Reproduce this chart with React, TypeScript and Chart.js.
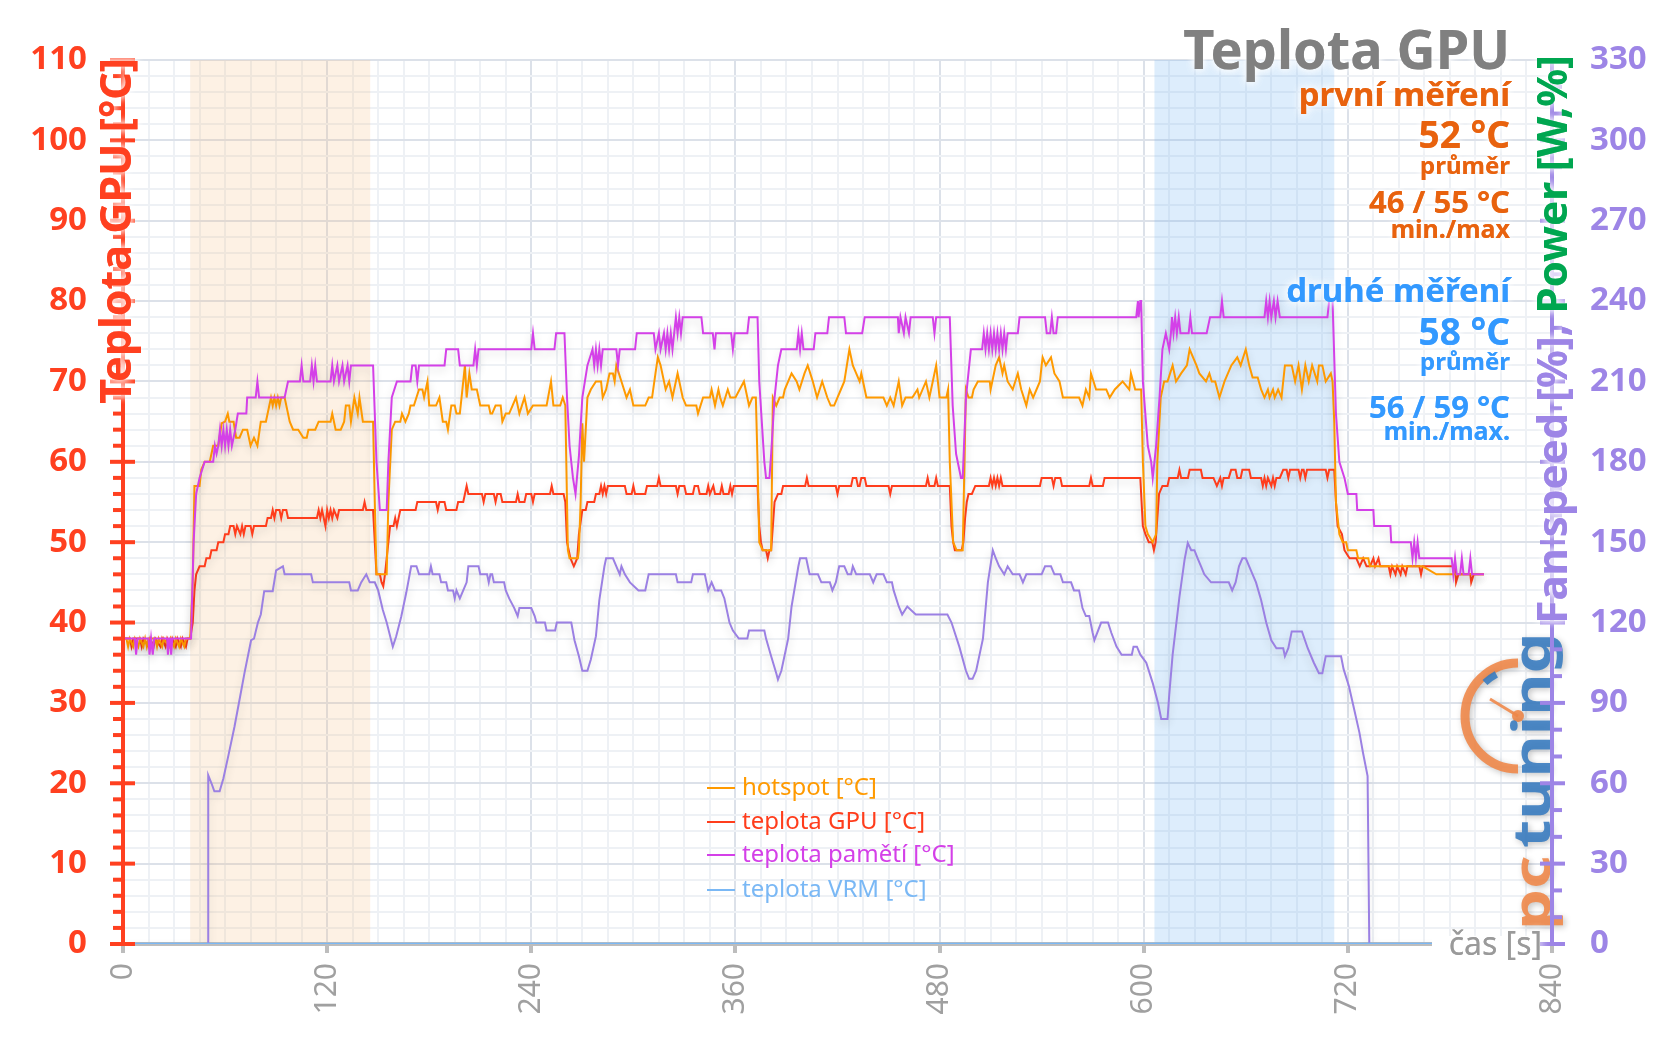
import React, { useEffect, useRef } from 'react';
import { Chart, registerables } from 'chart.js';

Chart.register(...registerables);

type P = [number, number];

// ---------- DATA ----------
const xLabelValues = [0, 120, 240, 360, 480, 600, 720, 840];
const bandFrom = [39.5, 606.3];
const bandTo = [145.3, 712];

const seriesNames = ['hotspot [°C]', 'teplota GPU [°C]', 'teplota pamětí [°C]', 'teplota VRM [°C]'];

const hotspot: P[] = [[0,38],[2,38],[3,37],[4,38],[6,37],[7,38],[9,37],[10,38],[12,37],[13,38],[14,37],[15,38],[19,38],[20,37],[21,38],[23,37],[24,38],[27,37],[28,38],[30,37],[31,38],[33,37],[34,38],[36,37],[37,38],[39.5,38],[41,45],[42,57],[45,57],[46,59],[48,60],[51,60],[53,62],[56,62],[58,64.8],[60,65],[61.6,66],[62.5,65],[65,65],[66.5,63],[68.5,63],[70.5,64],[73,64],[75,62],[77,63],[79,62],[81,65],[84,65],[87,68],[88,67],[89,68],[90,67],[91,68],[92,67],[93,68],[95,68],[98,65],[100,64],[103,64],[106,63],[108,63],[109,64],[113,64],[115,65],[122,65],[123,66],[125,64],[128,64],[130,65],[131,67],[133,67],[134,65],[136,68],[138,66],[139,68],[141,65],[147,65],[148,55],[149,46],[155,46],[156,55],[158,64],[160,65],[163,65],[164,66],[166,65],[168,66],[169,67],[171,67],[174,69],[176,69],[177,68],[179,70],[180,67],[184,67],[186,68],[188,65],[190,65],[191,64],[193,67],[195,67],[196,66],[198,66],[199,68],[201,72],[202,68],[203.6,71],[205,69],[208,69],[210,67],[215,67],[216,66],[217,66],[219,67],[222,67],[223,65],[225,66],[227,66],[229,67],[231,68],[233,66],[236,68],[238,66],[241,67],[249,67],[251.6,70],[253,67],[257,67],[258.5,68],[260,67],[260.5,61],[261.5,49],[262.5,48],[267.4,48],[268,49],[269,55],[270,64.8],[271,60],[272,64],[273,68],[275,69],[278,70],[281,70],[282,68],[284,69],[286,71],[288,71],[289,70],[290,72],[293,70],[296,68],[298,69],[300,67],[307,67],[309,68],[311,68],[313,71],[314.4,73],[316,72],[319,69],[321,70],[323,68],[326,71],[329,68],[331,67],[337,67],[338,66],[341,68],[345,68],[346,69],[348,67],[350,69],[351,68],[352.6,67],[355.5,69],[357,68],[360,68],[365,70],[367,68],[368,67],[370,68],[372,68],[373,60],[374,50],[376,49],[381,49],[382,68],[384,67],[386,68],[388,68],[389,69],[393,71],[396,70],[397.6,69],[400.6,71],[402.5,72],[405.5,70],[408,68],[411,70],[414,68],[416,67],[418,67],[422,69],[424,70],[427,74],[429,72],[431,71],[433,70],[434,71],[436,69],[437,68],[447,68],[449,67],[451,68],[453,67],[456,70],[458,67],[460,68],[464,68],[467,69],[468,68],[472,70],[474,68],[476,70],[478,72],[480,68],[484,68],[485,69],[486,60],[488,50],[490,49],[493.6,49],[495.5,69],[497,68],[499,68],[500,69],[502.5,70],[509.5,70],[510,69],[513,72],[515,73],[517,71],[518,72],[520,70],[523,69],[526,71],[528,69],[531,67],[533,69],[535,68],[537,69],[539,70],[540,72],[540.6,73],[542.5,72],[545.5,73],[547.5,71],[550.5,70],[552.5,68],[562,68],[564,67],[566,69],[568,68],[569,71],[572,69],[578,69],[580,68],[583,69],[587.6,70],[591.5,69],[592.5,71],[595,69],[598.5,69],[599.5,60],[601,52],[602.4,51],[605.3,50],[607.3,51],[608,60],[610,68],[612,70],[614,70],[617,72],[619,70],[622,71],[625.4,72],[627,74],[629,73],[631,72],[632.7,71],[636.6,70],[638.6,71],[640,70],[642,70],[644.5,68],[647.5,70],[651.5,72],[655,73],[657,72],[660,74],[662,72],[664,70.5],[667,70.5],[669,69],[671,68],[673,69],[674,68],[676,69],[677,68],[679,69],[681,68],[682,70],[683,72],[687,72],[689,70],[691,72],[693,69],[695,72],[697,70],[699,72],[702,70],[703,72],[705,72],[707,70],[710,71],[711,70],[712,65],[713,55],[714,53],[715,51],[717,50],[719,50],[720,49],[725,49],[726,48],[732,48],[733,47],[764,47],[772,46],[800,46]];

const gpuTemp: P[] = [[0,38],[4,38],[5,37],[6,38],[10,38],[11,37],[12,38],[15,37],[16,38],[18,37],[19,38],[22,37],[23,38],[25,37],[26,38],[28,37],[29,38],[31,37],[32,38],[34,37],[35,38],[37,37],[38,38],[39.5,38],[41,40],[42,44],[43,46],[45,47],[48,47],[49,48],[51,48],[52,49],[55,49],[56,50],[59,50],[60,51],[62,51],[63,52],[65,52],[66,51],[67,52],[69,51],[70,52],[71,51],[72,52],[75,52],[76,51],[77,52],[84,52],[85,53],[87,53],[88,54],[89,53],[90,54],[92,54],[93,53],[94,54],[96,54],[97,53],[114,53],[115,54],[116,53],[117,54],[118,53],[119,52],[120,54],[121,53],[122,54],[123,53],[124,54],[126,53],[127,54],[141,54],[142,55],[143,54],[147,54],[148,50],[149,46],[151,46],[152,45],[153,44.5],[154,46],[156,50],[157,52],[159,52],[160,53],[161,52],[162,53],[163,54],[172,54],[173,55],[184,55],[185,54],[186,55],[189,55],[190,54],[196,54],[197,55],[200,55],[201,56],[202,57],[203,56],[211,56],[212,55],[213,56],[218,56],[219,55],[220,56],[222,56],[223,55],[231,55],[232,56],[233,55],[236,55],[237,56],[240,56],[241,55],[242,56],[251,56],[252,57],[253,56],[259,56],[260,55],[261,50],[262,49],[263,48],[265,47],[266,47.5],[267,48],[268,51],[270,54],[272,54],[273,55],[277,55],[278,56],[280,56],[281,57],[282,56],[283,57],[284,56],[285,57],[295,57],[296,56],[299,56],[300,57],[301,56],[307,56],[308,57],[314,57],[315,58],[316,57],[325,57],[326,56],[327,57],[330,57],[331,56],[335,56],[336,57],[338,57],[339,56],[343,56],[344,57],[345,56],[347,57],[348,56],[351,56],[352,57],[353,56],[356,56],[357,57],[358,56],[359,57],[373,57],[374,52],[375,50],[376,49],[378,49],[379,48],[380,49],[381,49],[382,52],[383,55],[385,56],[387,56],[388,57],[401,57],[402,58],[403,57],[419,57],[420,56],[421,57],[428,57],[429,58],[431,58],[432,57],[433,57],[434,58],[436,58],[437,57],[450,57],[451,56],[452,57],[472,57],[473,58],[474,57],[477,57],[478,58],[479,57],[486,57],[487,52],[488,50],[489,49],[493,49],[494,50],[495,53],[496,55],[497,56],[499,56],[501,57],[509,57],[510,58],[511,57],[512,58],[513,57],[514,58],[515,57],[516,58],[517,57],[519,57],[539,57],[540,58],[546,58],[547,57],[548,58],[551,58],[552,57],[568,57],[569,58],[570,57],[576,57],[577,58],[598,58],[599.5,52],[601,51],[603,50],[605,50],[606,49],[607,50],[608,53],[609,56],[611,57],[614,57],[615,58],[620,58],[621,59],[622,58],[626,58],[627,59],[633.6,59],[634.6,58],[641,58],[643,57],[645,58],[646,57],[647,58],[650,58],[651.4,59],[654,59],[655,58],[657,58],[658,59],[662,59],[663,58],[669,58],[670,57],[671,58],[672,57],[673,58],[675,57],[676,58],[677,57],[678,58],[680,58],[682,59],[684,59],[685,58],[686,59],[691,59],[692,58],[693,59],[694,59],[695,58],[696,59],[707,59],[708,58],[709,59],[712,59],[713,55],[714,52],[716.5,51],[718,49],[721,48],[725,48],[727,47],[729,48],[731,47],[733,47],[735,48],[736,47],[738,48],[739,47],[744,47],[745,46],[746,47],[748,46],[749,47],[751,46],[752,47],[754,46],[755,47],[762,47],[763,46],[764,47],[783,47],[783.6,45],[785,46],[792,46],[792.5,45],[794,46],[800,46]];

const memTemp: P[] = [[0,38],[7,38],[7.7,36],[8.5,38],[15,38],[15.6,36],[16.5,38],[17,38],[17.5,36],[18.3,38],[26,38],[26.4,36],[27.2,38],[27.8,38],[28.3,36],[29,38],[40,38],[41.5,50],[43,56],[45,58],[48,60],[53,60],[54,62],[55,61],[56,62],[57,64],[58,62],[59,64],[60,62],[61,64],[62,62],[63,64],[64,62],[66,64],[67.5,66],[72.5,66],[73,68],[78,68],[79,70],[80,68],[95,68],[97,70],[104,70],[105,72],[106,70],[110,70],[111,72],[112,70],[113,72],[114,70],[122,70],[123,72],[124,70],[126,72],[127,70],[129,72],[130,70],[132,72],[133,70],[134,72],[147,72],[149,60],[151,54],[155,54],[156,60],[158,68],[161,70],[169,70],[170,72],[172,72],[173,70],[174,72],[189,72],[190,74],[197,74],[198,72],[206,72],[207,74],[208,72],[209,74],[240,74],[241,76],[242,74],[253.6,74],[254.6,76],[259.5,76],[261,68],[262.5,62],[264.5,58],[266,56],[268,60.7],[270,68],[273,72],[276,74],[277,72],[278,74],[279,72],[280,74],[281,72],[282,74],[290,74],[291,72],[292,74],[301,74],[302,76],[312,76],[313,74],[315,76],[316,74],[318,76],[319,74],[320,76],[321,74],[322,76],[323,74],[324,76],[325,78],[326,76],[327,78],[328,76],[329,78],[340,78],[341,76],[346.7,76],[347.7,74],[348.5,76],[357.5,76],[358.5,74],[359.5,76],[367,76],[368,78],[373,78],[374,70],[377,60],[378,58],[380,58],[381,61],[383,68],[385,72],[387,74],[396,74],[397,76],[398,74],[399,76],[400,74],[406,74],[407,76],[414,76],[415,78],[424,78],[425,76],[434.5,76],[436,78],[455.5,78],[456,76],[457,78],[459,76],[460,78],[462,76],[463,78],[476,78],[477,76],[478,78],[486,78],[487.7,67],[489.7,61],[492.6,58],[493.6,58],[495.5,68],[498.4,74],[505,74],[506,76],[507,74],[508,76],[509,74],[510,76],[511,74],[512,76],[513,74],[514,76],[515,74],[516,76],[517,74],[518,76],[519,74],[520,76],[526,76],[527,78],[542,78],[543,76],[545,76],[546,78],[547,76],[548.5,76],[549.5,78],[595.6,78],[596.6,80],[597,78],[598,80],[598.5,80],[599.5,70],[602.4,62],[604.4,60],[605.3,58],[607.3,62],[609.3,68],[611,74],[613,76],[615,74],[616,76],[616.6,78],[617.5,76],[618.5,78],[619.5,76],[620.6,78],[621.6,76],[626.4,76],[627.4,78],[628.4,76],[637,76],[639,78],[645,78],[646,80],[647,78],[671,78],[672,80],[673,78],[674,80],[675,78],[676.5,80],[677.5,78],[678.7,80],[680,78],[708,78],[709,80],[711,80],[713,66],[715,60],[718,58],[720,56],[725,56],[725.5,54],[735,54],[735.5,52],[745,52],[745.5,50],[757,50],[758,48],[759,50],[760,48],[761,50],[762,48],[781,48],[782,46],[783,48],[784,46],[786,46],[787,48],[788,46],[791,46],[792,48],[793,46],[800,46]];

const vrmTemp: P[] = [[0,0],[800,0]];

const fanLine: P[] = [[0,0],[50,0],[50.1,21],[52,20],[53.7,19],[56.8,19],[59,20.6],[62,23.5],[65.5,27],[68.5,30.4],[71.4,33.7],[75.3,37.8],[77,38],[79.3,40],[81,41],[83,43.9],[88,43.9],[90,46.5],[94,47],[95,46],[110.6,46],[111.6,45],[133,45],[134,44],[138,44],[140,45],[143,46],[145,45],[148,45],[150,44],[152.7,41.6],[155,40],[158.6,37],[160.6,38.3],[163.5,40.7],[166.5,43.7],[169.4,47],[172.5,47],[174,46],[180,46],[181,47],[182,46],[186,46],[187,45],[190,45],[191,44],[194,44],[195,43],[196,44],[198,43],[200,44],[202,45],[203,47],[209,47],[210,46],[214,46],[215,45],[216,46],[217,46],[218,45],[224,45],[225,44],[227,43],[230,41.8],[232,40.8],[233,41.8],[240,41.8],[242,40.8],[243,40],[248,40],[249,39],[254,39],[255,40],[263.5,40],[265.4,37.8],[268,35.8],[270,34],[273,34],[275,35.4],[278,38.3],[280,42.8],[283,47],[284,48],[288,48],[290,47],[292,46],[293,47],[295,46],[298,45],[303,44],[307,44],[309,46],[325,46],[326,45],[334,45],[335,46],[342,46],[343,45],[344,44],[346,45],[348,44],[351.6,44],[353.5,43],[356.5,40],[358.5,39],[362,38],[367,38],[368,39],[377,39],[378,38],[381,35.8],[384,33.7],[385,32.9],[387,34],[391,38],[393,42],[397,47],[398,48],[401.6,48],[403.6,46],[408.5,46],[410.5,45],[415.5,45],[417,44],[419,45],[421,47],[424,47],[426,46],[428,46],[429,47],[431,46],[439,46],[441,45],[443,46],[447,46],[449,45],[452,45],[453,44],[456,42],[458,41],[461,42],[466,41],[484.6,41],[487,40],[491.6,37],[495.5,34],[497.4,33],[499.4,33],[501.5,34],[505.5,38],[508.4,45],[511.3,49],[513,48],[515,47],[518,46],[520,47],[523,46],[527,46],[529,45],[531,46],[540,46],[542,47],[545.5,47],[547.5,46],[551,46],[552.5,45],[557.3,45],[559,44],[562,44],[564,41.8],[566,40.8],[568,40.8],[570,38.7],[571,37.8],[575,40],[579,40],[581,38.7],[584,37],[587,36],[593,36],[594,37],[596,37],[598,36],[601.5,35],[605.4,32.4],[608.4,30],[610.3,28],[614,28],[615,31],[617,36],[621,43.2],[624,47.8],[625.9,49.9],[627.9,49],[629.8,49],[631.7,48],[633.7,47],[635.6,46],[639.6,45],[650,45],[652,44],[654,45],[656,47],[658,48],[660,48],[662,47],[664,46],[666,45],[669,42.8],[672,40],[675,37.8],[678,36.8],[682,36.8],[683,35.8],[685,36.8],[687,38.9],[693,38.9],[696.4,36.8],[700,35],[703,33.7],[705,33.7],[707,35.8],[716,35.8],[717.5,34.2],[720.6,32.1],[723.7,29.2],[726.8,26.3],[728.9,23.8],[731.6,20.9],[732.6,0],[800,0]];

// ---------- STYLE ----------
const FONT = '"Noto Sans", "Open Sans", "DejaVu Sans", sans-serif';
const COL = {
  hot: '#ff9a00', gpu: '#ff3d1c', mem: '#d440e8', vrm: '#7ab8f5', fan: '#9b80e3',
  left: '#ff4020', right: '#9d85e6', green: '#00a650', orange: '#e8620e', blue: '#3399ff',
  title: '#808080', axisGray: '#bdbdbd', xlab: '#a0a0a0',
};
const bandColors = ['rgba(248,190,130,0.22)', 'rgba(120,185,245,0.25)'];
const seriesColors = [COL.hot, COL.gpu, COL.mem, COL.vrm];

const toXY = (a: P[]) => a.map(([x, y]) => ({ x, y }));

function glowText(ctx: any, text: string, x: number, y: number, color: string, font: string, align: string) {
  ctx.save();
  ctx.font = font;
  ctx.textAlign = align;
  ctx.textBaseline = 'alphabetic';
  ctx.shadowColor = 'rgba(255,255,255,1)';
  ctx.shadowBlur = 8;
  ctx.fillStyle = color;
  ctx.fillText(text, x, y);
  ctx.fillText(text, x, y);
  ctx.restore();
}

const bandsPlugin = {
  id: 'bands',
  beforeDatasetsDraw(chart: any) {
    const { ctx, chartArea: a, scales } = chart;
    ctx.save();
    bandFrom.forEach((f, i) => {
      const x0 = scales.x.getPixelForValue(f);
      const x1 = scales.x.getPixelForValue(bandTo[i]);
      ctx.fillStyle = bandColors[i];
      ctx.fillRect(x0, a.top, x1 - x0, a.bottom - a.top);
    });
    ctx.restore();
  },
};

const shadowPlugin = {
  id: 'lineShadow',
  beforeDatasetDraw(chart: any, args: any) {
    const ctx = chart.ctx;
    ctx.save();
    if (args.index !== 3) {
      ctx.shadowColor = 'rgba(0,0,0,0.16)';
      ctx.shadowBlur = 8;
      ctx.shadowOffsetY = 4;
    }
  },
  afterDatasetDraw(chart: any) {
    chart.ctx.restore();
  },
};

function drawLogo(ctx: any) {
  ctx.save();
  ctx.globalAlpha = 0.9;
  ctx.shadowColor = 'rgba(0,0,0,0.25)';
  ctx.shadowBlur = 6;
  ctx.shadowOffsetX = 2;
  ctx.shadowOffsetY = 2;
  // gauge
  const cx = 1518, cy = 716, r = 53;
  ctx.lineWidth = 9;
  ctx.strokeStyle = '#f0884a';
  ctx.beginPath();
  ctx.arc(cx, cy, r, -Math.PI / 2, Math.PI / 2, true);
  ctx.stroke();
  ctx.strokeStyle = '#3a7cc0';
  ctx.lineWidth = 7;
  ctx.beginPath();
  ctx.arc(cx, cy, r - 6, -2.35, -2.05, false);
  ctx.stroke();
  ctx.strokeStyle = '#f0884a';
  ctx.lineWidth = 3;
  ctx.beginPath();
  ctx.moveTo(cx, cy);
  ctx.lineTo(cx - 28, cy - 17);
  ctx.stroke();
  ctx.fillStyle = '#f0884a';
  ctx.beginPath();
  ctx.arc(cx, cy, 6, 0, Math.PI * 2);
  ctx.fill();
  // text
  ctx.translate(1550, 930);
  ctx.rotate(-Math.PI / 2);
  ctx.scale(1.25, 1);
  ctx.font = `bold 52px ${FONT}`;
  ctx.textAlign = 'left';
  ctx.textBaseline = 'alphabetic';
  ctx.fillStyle = '#f0884a';
  ctx.fillText('pc', 0, 0);
  const w = ctx.measureText('pc').width;
  ctx.fillStyle = '#3a7cc0';
  ctx.fillText('tuning', w + 6, 0);
  ctx.restore();
}

const overlayPlugin = {
  id: 'overlay',
  afterDatasetsDraw(chart: any) {
    const { ctx, chartArea: a, scales } = chart;
    const y = scales.y, y2 = scales.y2;
    ctx.save();
    // background for the time label
    ctx.fillStyle = '#ffffff';
    ctx.fillRect(1432, a.bottom - 8, 116, 14);
    drawLogo(ctx);
    // axis lines and ticks
    ctx.lineCap = 'butt';
    ctx.lineWidth = 4;
    ctx.strokeStyle = COL.left;
    ctx.beginPath();
    ctx.moveTo(a.left, a.top);
    ctx.lineTo(a.left, a.bottom + 2);
    ctx.stroke();
    for (let v = 0; v <= 110; v += 2) {
      const py = y.getPixelForValue(v);
      ctx.beginPath();
      if (v % 10 === 0) { ctx.moveTo(a.left - 13, py); ctx.lineTo(a.left + 12, py); }
      else { ctx.moveTo(a.left - 10, py); ctx.lineTo(a.left, py); }
      ctx.stroke();
    }
    ctx.strokeStyle = COL.right;
    ctx.beginPath();
    ctx.moveTo(a.right, a.top);
    ctx.lineTo(a.right, a.bottom + 2);
    ctx.stroke();
    for (let v = 0; v <= 330; v += 10) {
      const py = y2.getPixelForValue(v);
      ctx.beginPath();
      if (v % 30 === 0) { ctx.moveTo(a.right - 12, py); ctx.lineTo(a.right + 13, py); }
      else { ctx.moveTo(a.right, py); ctx.lineTo(a.right + 10, py); }
      ctx.stroke();
    }
    ctx.restore();
  },
  afterDraw(chart: any) {
    const { ctx } = chart;
    // time label
    glowText(ctx, 'čas [s]', 1542, 955, '#9a9a9a', `32px ${FONT}`, 'right');
    // title + annotations
    glowText(ctx, 'Teplota GPU', 1510, 69, COL.title, `bold 54px ${FONT}`, 'right');
    const notes: [string, number, string, number][] = [
      ['první měření', 106, COL.orange, 33],
      ['52 °C', 148, COL.orange, 37],
      ['průměr', 174, COL.orange, 24],
      ['46 / 55 °C', 213, COL.orange, 31],
      ['min./max', 238, COL.orange, 25],
      ['druhé měření', 302, COL.blue, 33],
      ['58 °C', 345, COL.blue, 37],
      ['průměr', 370, COL.blue, 24],
      ['56 / 59 °C', 418, COL.blue, 31],
      ['min./max.', 440, COL.blue, 25],
    ];
    notes.forEach(([t, by, c, s]) => glowText(ctx, t, 1510, by, c, `bold ${s}px ${FONT}`, 'right'));

    // left axis title
    ctx.save();
    ctx.translate(131, 58);
    ctx.rotate(-Math.PI / 2);
    glowText(ctx, 'Teplota GPU [°C]', 0, 0, COL.left, `bold 43px ${FONT}`, 'right');
    ctx.restore();

    // right axis title (two colours)
    ctx.save();
    ctx.translate(1567, 55);
    ctx.rotate(-Math.PI / 2);
    ctx.font = `bold 42px ${FONT}`;
    const p2 = 'Power [W,%]';
    const w2 = ctx.measureText(p2).width;
    glowText(ctx, p2, 0, 0, COL.green, `bold 42px ${FONT}`, 'right');
    glowText(ctx, 'Fan speed [%], ', -w2, 0, COL.right, `bold 42px ${FONT}`, 'right');
    ctx.restore();

    // legend
    ctx.save();
    const rows = [788, 822, 855, 890];
    seriesNames.forEach((name, i) => {
      ctx.strokeStyle = seriesColors[i];
      ctx.lineWidth = 2;
      ctx.beginPath();
      ctx.moveTo(707, rows[i]);
      ctx.lineTo(735, rows[i]);
      ctx.stroke();
      ctx.font = `24px ${FONT}`;
      ctx.textAlign = 'left';
      ctx.textBaseline = 'middle';
      ctx.fillStyle = seriesColors[i];
      ctx.fillText(name, 742, rows[i]);
    });
    ctx.restore();
  },
};

export default function App() {
  const ref = useRef<HTMLCanvasElement>(null);

  useEffect(() => {
    document.body.style.margin = '0';
    const canvas = ref.current;
    if (!canvas) return;
    const line = (label: string, data: P[], color: string, width = 2) => ({
      label,
      data: toXY(data),
      borderColor: color,
      backgroundColor: color,
      borderWidth: width,
      pointRadius: 0,
      tension: 0,
      fill: false,
      yAxisID: 'y',
    });
    const chart = new Chart(canvas, {
      type: 'line',
      data: {
        datasets: [
          line(seriesNames[2], memTemp, COL.mem),
          line(seriesNames[0], hotspot, COL.hot),
          line(seriesNames[1], gpuTemp, COL.gpu),
          line(seriesNames[3], vrmTemp, COL.vrm, 2.5),
          line('Fan speed [%]', fanLine, COL.fan),
        ],
      },
      options: {
        responsive: false,
        devicePixelRatio: 1,
        animation: false,
        parsing: false,
        normalized: true,
        layout: { padding: { top: 60, left: 0, right: 0, bottom: 0 } },
        plugins: { legend: { display: false }, tooltip: { enabled: false }, title: { display: false } },
        scales: {
          x: {
            type: 'linear',
            min: 0,
            max: 840,
            afterFit: (s: any) => { s.height = 99; },
            afterBuildTicks: (s: any) => {
              const t = [];
              for (let v = 0; v <= 840; v += 15) t.push({ value: v });
              s.ticks = t;
            },
            ticks: {
              autoSkip: false,
              minRotation: 90,
              maxRotation: 90,
              padding: 10,
              color: COL.xlab,
              font: { family: FONT, size: 30 },
              callback: (v: any) => (xLabelValues.includes(Number(v)) ? String(v) : ''),
            },
            grid: {
              color: (c: any) => (c.tick && c.tick.value % 120 === 0 ? '#dce1e9' : '#eef1f5'),
              lineWidth: 2,
              tickLength: 9,
              tickWidth: 4,
              tickColor: (c: any) => (c.tick && c.tick.value % 120 === 0 ? COL.axisGray : 'rgba(0,0,0,0)'),
            },
            border: { color: COL.axisGray, width: 4 },
          },
          y: {
            position: 'left',
            min: 0,
            max: 110,
            afterFit: (s: any) => { s.width = 123; },
            afterBuildTicks: (s: any) => {
              const t = [];
              for (let v = 0; v <= 110; v += 2) t.push({ value: v });
              s.ticks = t;
            },
            ticks: {
              autoSkip: false,
              padding: 36,
              color: COL.left,
              font: { family: FONT, size: 33, weight: 'bold' },
              callback: (v: any) => (Number(v) % 10 === 0 ? String(v) : ''),
            },
            grid: {
              color: (c: any) => (c.tick && c.tick.value % 10 === 0 ? '#dce1e9' : '#eef1f5'),
              lineWidth: 2,
              drawTicks: false,
            },
            border: { color: COL.left, width: 4 },
          },
          y2: {
            position: 'right',
            min: 0,
            max: 330,
            afterFit: (s: any) => { s.width = 104; },
            afterBuildTicks: (s: any) => {
              const t = [];
              for (let v = 0; v <= 330; v += 10) t.push({ value: v });
              s.ticks = t;
            },
            ticks: {
              autoSkip: false,
              padding: 38,
              color: COL.right,
              font: { family: FONT, size: 33, weight: 'bold' },
              callback: (v: any) => (Number(v) % 30 === 0 ? String(v) : ''),
            },
            grid: { drawOnChartArea: false, drawTicks: false },
            border: { color: COL.right, width: 4 },
          },
        },
      },
      plugins: [bandsPlugin, shadowPlugin, overlayPlugin],
    } as any);
    return () => chart.destroy();
  }, []);

  return (
    <div style={{ position: 'absolute', left: 0, top: 0, width: 1656, height: 1043, background: '#ffffff' }}>
      <canvas ref={ref} width={1656} height={1043} style={{ width: 1656, height: 1043, display: 'block' }} />
    </div>
  );
}
